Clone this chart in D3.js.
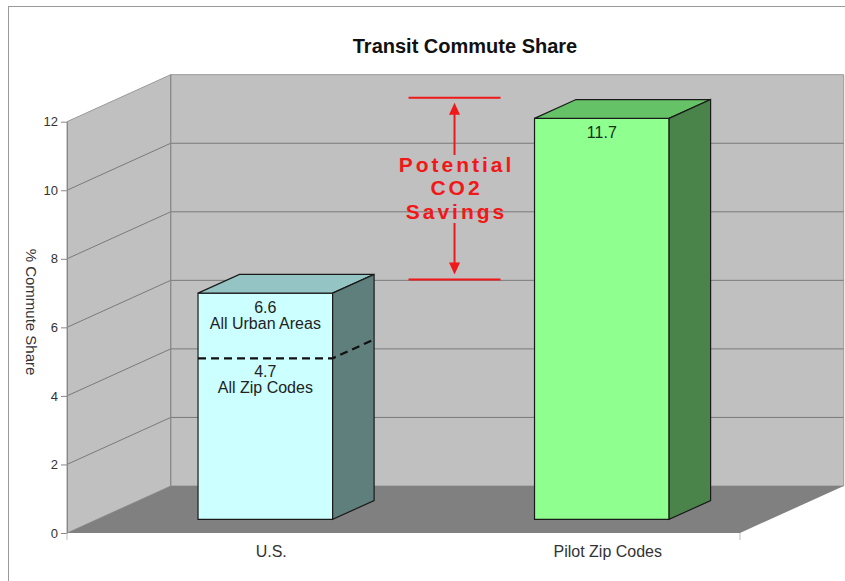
<!DOCTYPE html>
<html>
<head>
<meta charset="utf-8">
<script src="https://cdn.jsdelivr.net/npm/d3@7/dist/d3.min.js"></script>
<style>
  body { margin: 0; background: #fff; }
  text { font-family: Arial, "Liberation Sans", sans-serif; }
</style>
</head>
<body>
<div id="chart"></div>
<script>
// DATA
var categories = ["U.S.", "Pilot Zip Codes"];
var shareValues = [6.6, 11.7];
var allZipValue = 4.7;            // dashed marker inside the U.S. bar
var valueLabels = ["6.6", "11.7"];
var subLabels = ["All Urban Areas", ""];
var allZipLabels = ["4.7", "All Zip Codes"];
var yTicks = [0, 2, 4, 6, 8, 10, 12];
var savingsRange = [7.0, 12.3];   // red bracket, top and bottom
var savingsText = ["Potential", "CO2", "Savings"];

// SIZES
var W = 845, H = 581;
var x0 = 67, x1 = 740;            // front plane of the plot
var depthX = 103.7, depthY = -47; // 3d depth vector
var barFront = 0.29, barBack = 0.69;

var svg = d3.select("#chart").append("svg")
  .attr("width", W)
  .attr("height", H);

// outer frame
svg.append("rect")
  .attr("x", 8.5).attr("y", 6.5)
  .attr("width", W).attr("height", H)
  .attr("fill", "none")
  .attr("stroke", "#999");

var y = d3.scaleLinear().domain([0, 12]).range([533, 121.7]);
var x = d3.scaleBand().domain(categories).range([x0, x1])
  .paddingInner(0.6).paddingOuter(0.3);

// project a front-plane point back into the box
function proj(px, v, d) {
  return [px + depthX * d, y(v) + depthY * d];
}
function poly(pts) {
  return pts.map(function (p) { return p.join(","); }).join(" ");
}

// walls
var walls = svg.append("g");
walls.append("polygon")
  .attr("points", poly([proj(x0, 0, 1), proj(x0, 12, 1), proj(x1, 12, 1), proj(x1, 0, 1)]))
  .attr("fill", "#c0c0c0").attr("stroke", "#999");
walls.append("polygon")
  .attr("points", poly([proj(x0, 0, 0), proj(x0, 12, 0), proj(x0, 12, 1), proj(x0, 0, 1)]))
  .attr("fill", "#c0c0c0").attr("stroke", "#999");

// gridlines on back and side wall
yTicks.filter(function (t) { return t > 0 && t < 12; }).forEach(function (t) {
  var a = proj(x0, t, 0), b = proj(x0, t, 1), c = proj(x1, t, 1);
  walls.append("polyline")
    .attr("points", poly([a, b, c]))
    .attr("fill", "none")
    .attr("stroke", "#7a7a7a")
    .attr("stroke-width", 1);
});
walls.append("line")
  .attr("x1", proj(x0, 0, 1)[0]).attr("y1", proj(x0, 0, 1)[1])
  .attr("x2", proj(x0, 12, 1)[0]).attr("y2", proj(x0, 12, 1)[1])
  .attr("stroke", "#888");

// floor
walls.append("polygon")
  .attr("points", poly([proj(x0, 0, 0), proj(x1, 0, 0), proj(x1, 0, 1), proj(x0, 0, 1)]))
  .attr("fill", "#808080");

// y axis
var yAxis = svg.append("g")
  .attr("transform", "translate(" + x0 + ",0)")
  .call(d3.axisLeft(y).tickValues(yTicks).tickSize(6).tickSizeOuter(0));
yAxis.select(".domain").attr("stroke", "#888");
yAxis.selectAll(".tick line").attr("stroke", "#888");
yAxis.selectAll(".tick text")
  .attr("x", -9)
  .attr("fill", "#333")
  .style("font-size", "13px")
  .style("font-family", "Arial, 'Liberation Sans', sans-serif");

svg.append("text")
  .attr("transform", "translate(30,312) rotate(90)")
  .attr("text-anchor", "middle")
  .attr("dominant-baseline", "middle")
  .attr("fill", "#333")
  .style("font-size", "15px")
  .text("% Commute Share");

// x axis ticks at the ends
[x0, x1].forEach(function (px) {
  svg.append("line")
    .attr("x1", px).attr("x2", px)
    .attr("y1", y(0)).attr("y2", y(0) + 7)
    .attr("stroke", "#bbb");
});

// category labels
svg.selectAll(".cat")
  .data(categories)
  .enter()
  .append("text")
  .attr("class", "cat")
  .attr("x", function (d) { return x(d) + x.bandwidth() / 2 + 36; })
  .attr("y", 557)
  .attr("text-anchor", "middle")
  .attr("fill", "#333")
  .style("font-size", "16px")
  .text(function (d) { return d; });

// bars
var barColors = [
  { front: "#ccffff", top: "#95c4c4", side: "#5f7f7d" },
  { front: "#8fff8f", top: "#66c266", side: "#4a844a" }
];
var bars = svg.selectAll(".bar")
  .data(categories)
  .enter()
  .append("g")
  .attr("class", "bar");

bars.each(function (d, i) {
  var g = d3.select(this);
  var v = shareValues[i];
  var l = x(d), r = x(d) + x.bandwidth();
  var ftl = proj(l, v, barFront), ftr = proj(r, v, barFront);
  var fbr = proj(r, 0, barFront), fbl = proj(l, 0, barFront);
  var btl = proj(l, v, barBack), btr = proj(r, v, barBack), bbr = proj(r, 0, barBack);
  var c = barColors[i];
  g.append("polygon").attr("points", poly([ftl, ftr, fbr, fbl]))
    .attr("fill", c.front).attr("stroke", "#1a1a1a").attr("stroke-width", 1.2);
  g.append("polygon").attr("points", poly([ftl, btl, btr, ftr]))
    .attr("fill", c.top).attr("stroke", "#1a1a1a").attr("stroke-width", 1.2);
  g.append("polygon").attr("points", poly([ftr, btr, bbr, fbr]))
    .attr("fill", c.side).attr("stroke", "#1a1a1a").attr("stroke-width", 1.2);

  var cx = (ftl[0] + ftr[0]) / 2;
  g.append("text")
    .attr("x", cx).attr("y", ftl[1] + 19.5)
    .attr("text-anchor", "middle")
    .attr("fill", i === 1 ? "#123312" : "#222")
    .style("font-size", "16px")
    .text(valueLabels[i]);
  if (subLabels[i]) {
    g.append("text")
      .attr("x", cx).attr("y", ftl[1] + 36)
      .attr("text-anchor", "middle")
      .attr("fill", "#222")
      .style("font-size", "16px")
      .text(subLabels[i]);
  }
});

// dashed "All Zip Codes" marker on the U.S. bar
var usL = x(categories[0]), usR = usL + x.bandwidth();
svg.append("polyline")
  .attr("points", poly([proj(usL, allZipValue, barFront), proj(usR, allZipValue, barFront), proj(usR, allZipValue, barBack)]))
  .attr("fill", "none")
  .attr("stroke", "#111")
  .attr("stroke-width", 2.2)
  .attr("stroke-dasharray", "8,5");
var zipY = proj(usL, allZipValue, barFront)[1];
allZipLabels.forEach(function (t, k) {
  svg.append("text")
    .attr("x", proj((usL + usR) / 2, 0, barFront)[0])
    .attr("y", zipY + 18.5 + k * 16.3)
    .attr("text-anchor", "middle")
    .attr("fill", "#222")
    .style("font-size", "16px")
    .text(t);
});

// potential savings bracket
var red = "#f01818";
var ax = proj(x(categories[1]), 0, barFront)[0] - 80;
var yTop = proj(0, savingsRange[1], barFront)[1];
var yBot = proj(0, savingsRange[0], barFront)[1];
var ann = svg.append("g");
[yTop, yBot].forEach(function (yy) {
  ann.append("line")
    .attr("x1", ax - 46).attr("x2", ax + 46)
    .attr("y1", yy).attr("y2", yy)
    .attr("stroke", red).attr("stroke-width", 2);
});
ann.append("line").attr("x1", ax).attr("x2", ax).attr("y1", 155).attr("y2", yTop + 14)
  .attr("stroke", red).attr("stroke-width", 2);
ann.append("polygon")
  .attr("points", poly([[ax, yTop + 5], [ax - 5.5, yTop + 17], [ax + 5.5, yTop + 17]]))
  .attr("fill", red);
ann.append("line").attr("x1", ax).attr("x2", ax).attr("y1", 223).attr("y2", yBot - 14)
  .attr("stroke", red).attr("stroke-width", 2);
ann.append("polygon")
  .attr("points", poly([[ax, yBot - 5], [ax - 5.5, yBot - 17], [ax + 5.5, yBot - 17]]))
  .attr("fill", red);
savingsText.forEach(function (t, k) {
  ann.append("text")
    .attr("x", ax + 2)
    .attr("y", 171.5 + k * 23.5)
    .attr("text-anchor", "middle")
    .attr("fill", red)
    .style("font-size", "21px")
    .style("font-weight", "bold")
    .style("letter-spacing", "3px")
    .text(t);
});

// title
svg.append("text")
  .attr("x", 465).attr("y", 53)
  .attr("text-anchor", "middle")
  .attr("fill", "#111")
  .style("font-size", "20px")
  .style("font-weight", "bold")
  .text("Transit Commute Share");
</script>
</body>
</html>
